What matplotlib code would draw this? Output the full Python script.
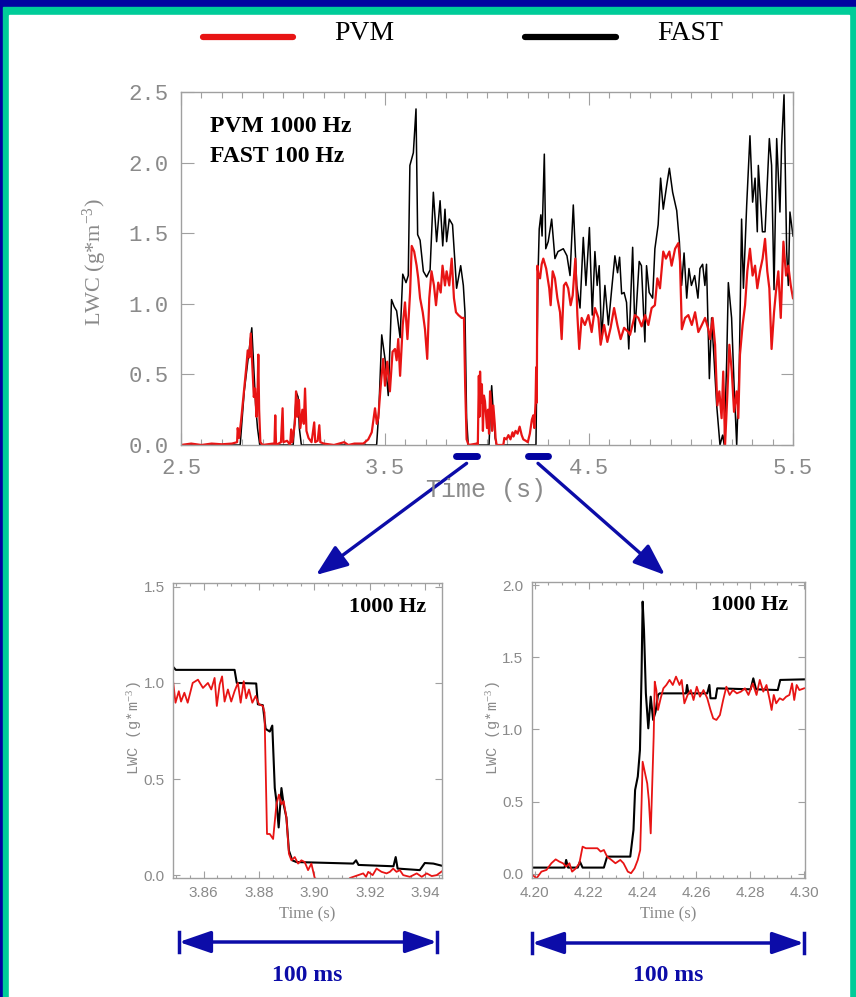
import matplotlib.pyplot as plt
from matplotlib.ticker import MultipleLocator, FixedLocator, FormatStrFormatter
from matplotlib.patches import Rectangle, FancyArrowPatch
from matplotlib.lines import Line2D
from matplotlib.transforms import blended_transform_factory

plt.rcParams['mathtext.fontset'] = 'custom'
plt.rcParams['mathtext.rm'] = 'Liberation Serif'
plt.rcParams['mathtext.it'] = 'Liberation Serif:italic'

W, H = 856, 997

# --- main panel: FAST (100 Hz) and PVM (1000 Hz), LWC in g/m^3 ---
fast_t = [2.50, 2.79, 2.81, 2.83, 2.847, 2.855, 2.866, 2.875, 2.886, 3.05, 3.058, 3.066, 3.074,
          3.08, 3.09, 3.459, 3.470, 3.484, 3.500, 3.510, 3.516, 3.532, 3.545, 3.557, 3.574, 3.587,
          3.603, 3.614, 3.622, 3.639, 3.652, 3.660, 3.672, 3.688, 3.704, 3.721, 3.737, 3.753, 3.770,
          3.783, 3.794, 3.802, 3.815, 3.831, 3.851, 3.871, 3.884, 3.892, 3.900, 3.908, 4.010, 4.018,
          4.023, 4.030, 4.040, 4.047, 4.240, 4.250, 4.256, 4.264, 4.270, 4.281, 4.288, 4.300, 4.317,
          4.333, 4.348, 4.374, 4.392, 4.407, 4.423, 4.440, 4.456, 4.472, 4.485, 4.502, 4.516, 4.529,
          4.540, 4.550, 4.562, 4.578, 4.595, 4.611, 4.627, 4.640, 4.650, 4.660, 4.672, 4.684, 4.695,
          4.714, 4.725, 4.746, 4.757, 4.774, 4.782, 4.795, 4.812, 4.823, 4.839, 4.851, 4.864, 4.881,
          4.894, 4.910, 4.930, 4.943, 4.954, 4.966, 4.979, 4.990, 5.002, 5.018, 5.034, 5.044, 5.057,
          5.068, 5.076, 5.090, 5.101, 5.113, 5.126, 5.142, 5.155, 5.163, 5.175, 5.183, 5.199, 5.211,
          5.224, 5.237, 5.248, 5.257, 5.273, 5.289, 5.302, 5.314, 5.325, 5.330, 5.350, 5.363, 5.384,
          5.395, 5.407, 5.420, 5.436, 5.444, 5.456, 5.469, 5.477, 5.485, 5.500]
fast_v = [0.0, 0.0, 0.38, 0.62, 0.83, 0.60, 0.28, 0.12, 0.0, 0.0, 0.20, 0.37, 0.34,
          0.12, 0.0, 0.0, 0.25, 0.78, 0.61, 0.45, 0.35, 1.03, 0.98, 0.95, 0.76, 1.21,
          1.15, 1.20, 1.98, 2.07, 2.38, 1.49, 1.45, 1.23, 1.19, 1.24, 1.79, 1.44, 1.73,
          1.41, 1.67, 1.44, 1.60, 1.56, 1.11, 1.27, 1.13, 0.94, 0.19, 0.0, 0.0, 0.30,
          0.42, 0.25, 0.05, 0.0, 0.0, 1.20, 1.53, 1.63, 1.48, 2.06, 1.39, 1.44, 1.60,
          1.32, 1.37, 1.39, 1.34, 1.20, 1.70, 1.13, 0.97, 1.47, 1.13, 1.54, 0.92, 1.37,
          1.13, 1.27, 0.75, 1.13, 0.85, 1.10, 1.34, 1.22, 1.33, 1.07, 1.08, 1.01, 0.68,
          1.40, 0.80, 1.30, 1.27, 0.73, 1.27, 1.08, 1.04, 1.39, 1.56, 1.89, 1.67, 1.84,
          1.96, 1.79, 1.66, 1.44, 1.13, 1.36, 1.04, 1.25, 1.13, 1.20, 1.04, 1.25, 1.28,
          1.13, 1.28, 0.47, 0.90, 0.61, 0.28, 0.0, 0.07, 0.0, 0.60, 1.15, 0.90, 0.43,
          0.0, 0.59, 1.60, 1.11, 1.70, 2.19, 1.72, 1.89, 1.51, 1.98, 1.51, 1.51, 2.17,
          1.98, 1.10, 2.17, 1.65, 2.12, 2.48, 1.37, 1.13, 1.65, 1.48]

pvm_t = [2.50, 2.55, 2.60, 2.65, 2.70, 2.75, 2.775, 2.778, 2.785, 2.795, 2.81, 2.82, 2.827,
         2.835, 2.842, 2.85, 2.857, 2.863, 2.870, 2.875, 2.879, 2.883, 2.889, 2.90, 2.95, 2.958,
         2.962, 2.966, 2.99, 2.998, 3.002, 3.02, 3.035, 3.04, 3.046, 3.058, 3.064, 3.07, 3.078,
         3.085, 3.095, 3.102, 3.108, 3.115, 3.125, 3.14, 3.153, 3.158, 3.170, 3.178, 3.183, 3.20,
         3.25, 3.30, 3.32, 3.35, 3.394, 3.418, 3.435, 3.451, 3.460, 3.467, 3.479, 3.491, 3.500,
         3.511, 3.524, 3.537, 3.549, 3.557, 3.565, 3.574, 3.587, 3.598, 3.610, 3.623, 3.631, 3.643,
         3.655, 3.663, 3.672, 3.685, 3.696, 3.707, 3.717, 3.728, 3.740, 3.750, 3.761, 3.773, 3.782,
         3.794, 3.802, 3.815, 3.827, 3.838, 3.848, 3.860, 3.876, 3.887, 3.893, 3.900, 3.910, 3.950,
         3.955, 3.960, 3.963, 3.966, 3.970, 3.975, 3.980, 3.985, 3.990, 4.000, 4.005, 4.010, 4.015,
         4.020, 4.025, 4.031, 4.038, 4.042, 4.047, 4.080, 4.085, 4.095, 4.105, 4.115, 4.125, 4.130,
         4.140, 4.150, 4.160, 4.170, 4.178, 4.190, 4.200, 4.210, 4.220, 4.227, 4.232, 4.238, 4.241,
         4.244, 4.247, 4.253, 4.260, 4.268, 4.276, 4.290, 4.305, 4.312, 4.322, 4.333, 4.345, 4.358,
         4.366, 4.377, 4.387, 4.398, 4.410, 4.420, 4.433, 4.443, 4.452, 4.464, 4.480, 4.497, 4.513,
         4.529, 4.546, 4.557, 4.574, 4.590, 4.606, 4.623, 4.639, 4.655, 4.672, 4.693, 4.701, 4.725,
         4.742, 4.758, 4.775, 4.791, 4.807, 4.823, 4.835, 4.848, 4.864, 4.877, 4.894, 4.905, 4.922,
         4.938, 4.946, 4.955, 4.971, 4.987, 5.004, 5.020, 5.036, 5.053, 5.069, 5.085, 5.093, 5.106,
         5.118, 5.129, 5.139, 5.150, 5.158, 5.167, 5.178, 5.188, 5.200, 5.211, 5.224, 5.232, 5.240,
         5.253, 5.265, 5.276, 5.289, 5.302, 5.314, 5.325, 5.338, 5.351, 5.363, 5.374, 5.384, 5.395,
         5.407, 5.416, 5.428, 5.440, 5.453, 5.466, 5.477, 5.489, 5.500]
pvm_v = [0.0, 0.01, 0.0, 0.01, 0.005, 0.01, 0.02, 0.12, 0.05, 0.18, 0.40, 0.55, 0.67,
         0.62, 0.79, 0.55, 0.34, 0.40, 0.20, 0.35, 0.64, 0.25, 0.02, 0.0, 0.01, 0.0,
         0.21, 0.0, 0.02, 0.26, 0.02, 0.03, 0.0, 0.11, 0.02, 0.15, 0.38, 0.20, 0.32,
         0.12, 0.25, 0.15, 0.40, 0.10, 0.05, 0.02, 0.16, 0.02, 0.03, 0.14, 0.02, 0.01,
         0.0, 0.02, 0.0, 0.01, 0.01, 0.04, 0.09, 0.26, 0.15, 0.19, 0.42, 0.61, 0.42,
         0.59, 0.38, 0.66, 0.68, 0.60, 0.75, 0.49, 0.85, 1.01, 0.75, 1.08, 1.41, 1.37,
         1.27, 1.18, 1.04, 0.94, 0.82, 0.61, 1.04, 1.23, 1.13, 0.99, 1.15, 1.08, 1.27,
         1.13, 1.23, 1.13, 1.32, 1.04, 0.94, 0.92, 0.90, 0.90, 0.42, 0.04, 0.0, 0.01,
         0.0, 0.49, 0.20, 0.52, 0.30, 0.43, 0.10, 0.35, 0.31, 0.12, 0.25, 0.08, 0.38,
         0.30, 0.10, 0.28, 0.15, 0.05, 0.0, 0.0, 0.05, 0.04, 0.07, 0.04, 0.09, 0.06,
         0.10, 0.08, 0.13, 0.07, 0.04, 0.03, 0.02, 0.08, 0.18, 0.21, 0.12, 0.30, 0.55,
         0.30, 1.27, 1.20, 1.18, 1.28, 1.32, 1.25, 1.11, 0.99, 1.23, 1.18, 1.04, 0.94,
         0.75, 1.13, 1.15, 1.11, 0.99, 1.06, 1.32, 0.92, 0.68, 0.90, 0.85, 0.92, 0.80,
         0.97, 0.90, 0.71, 0.85, 0.73, 0.83, 0.97, 0.85, 0.75, 0.83, 0.80, 0.78, 0.92,
         0.90, 0.84, 0.92, 0.85, 0.97, 0.99, 1.18, 1.11, 1.37, 1.32, 1.37, 1.27, 1.39,
         1.43, 1.30, 0.82, 0.90, 0.92, 0.85, 0.94, 0.80, 0.85, 0.90, 0.82, 0.75, 0.90,
         0.71, 0.28, 0.38, 0.19, 0.52, 0.0, 0.35, 0.71, 0.52, 0.235, 0.38, 0.19, 0.64,
         0.85, 0.99, 1.23, 1.39, 1.20, 1.27, 1.11, 1.23, 1.32, 1.46, 1.23, 1.11, 0.68,
         0.94, 1.08, 1.23, 0.90, 1.44, 1.20, 1.27, 1.13, 1.04]
main_xticks = [2.5, 3.5, 4.5, 5.5]

# --- zoom windows (s) ---
win1 = (3.85, 3.95)
win2 = (4.20, 4.30)

# --- zoom 1: leaving the cloud, both at 1000 Hz ---
fast1_t = [3.8489, 3.8500, 3.8712, 3.8720, 3.8790, 3.8796, 3.8814, 3.8824, 3.8839, 3.8848, 3.8857,
           3.8863, 3.8871, 3.8881, 3.8889, 3.8899, 3.8908, 3.8920, 3.8935, 3.9140, 3.9150, 3.9159,
           3.9285, 3.9293, 3.9300, 3.9380, 3.9398, 3.9429, 3.9459]
fast1_v = [1.086, 1.068, 1.068, 1.000, 0.997, 0.889, 0.884, 0.761, 0.747, 0.778, 0.453,
           0.385, 0.248, 0.453, 0.368, 0.299, 0.128, 0.077, 0.068, 0.060, 0.077, 0.053,
           0.046, 0.094, 0.034, 0.026, 0.063, 0.060, 0.049]
pvm1_t = [3.8489, 3.8499, 3.8511, 3.8519, 3.8531, 3.8543, 3.8561, 3.8580, 3.8598, 3.8616, 3.8628,
          3.8640, 3.8648, 3.8658, 3.8667, 3.8676, 3.8688, 3.8700, 3.8712, 3.8724, 3.8734, 3.8745,
          3.8754, 3.8764, 3.8776, 3.8788, 3.8800, 3.8814, 3.8820, 3.8829, 3.8839, 3.8851, 3.8863,
          3.8872, 3.8881, 3.8889, 3.8899, 3.8908, 3.8917, 3.8929, 3.8941, 3.8953, 3.8965, 3.8977,
          3.8989, 3.9001, 3.9019, 3.9122, 3.9128, 3.9176, 3.9186, 3.9194, 3.9210, 3.9224, 3.9242,
          3.9260, 3.9272, 3.9284, 3.9296, 3.9308, 3.9320, 3.9344, 3.9369, 3.9387, 3.9405, 3.9423,
          3.9441, 3.9459]
pvm1_v = [1.026, 0.897, 0.957, 0.903, 0.949, 0.897, 1.000, 1.017, 0.974, 1.000, 0.966,
          1.026, 0.880, 0.991, 1.034, 0.903, 0.966, 0.903, 0.957, 1.000, 0.897, 1.009,
          0.920, 0.966, 0.897, 0.932, 0.889, 0.880, 0.846, 0.214, 0.214, 0.188, 0.368,
          0.419, 0.368, 0.385, 0.299, 0.111, 0.077, 0.094, 0.060, 0.077, 0.068, 0.026,
          0.060, -0.015, -0.030, -0.030, -0.015, 0.009, -0.009, 0.017, 0.000, 0.034, 0.017,
          0.009, 0.017, 0.034, 0.017, 0.026, 0.000, -0.009, 0.009, -0.009, 0.009, -0.005,
          0.000, 0.019]

# --- zoom 2: entering the cloud ---
fast2_t = [4.1991, 4.2110, 4.2116, 4.2123, 4.2159, 4.2167, 4.2177, 4.2256, 4.2268, 4.2354, 4.2366,
           4.2372, 4.2382, 4.2390, 4.2396, 4.2400, 4.2405, 4.2412, 4.2421, 4.2430, 4.2439, 4.2448,
           4.2457, 4.2463, 4.2561, 4.2565, 4.2570, 4.2640, 4.2648, 4.2652, 4.2671, 4.2677, 4.2801,
           4.2811, 4.2821, 4.2902, 4.2911, 4.3000]
fast2_v = [0.044, 0.044, 0.097, 0.044, 0.044, 0.085, 0.044, 0.044, 0.120, 0.120, 0.305,
           0.581, 0.674, 0.858, 1.389, 1.885, 1.689, 1.250, 1.008, 1.227, 1.066, 1.123,
           1.239, 1.250, 1.250, 1.308, 1.250, 1.250, 1.308, 1.216, 1.216, 1.285, 1.278,
           1.354, 1.278, 1.273, 1.343, 1.347]
pvm2_t = [4.1991, 4.2006, 4.2024, 4.2043, 4.2061, 4.2077, 4.2091, 4.2104, 4.2116, 4.2128, 4.2138,
          4.2152, 4.2165, 4.2177, 4.2189, 4.2213, 4.2232, 4.2244, 4.2256, 4.2268, 4.2284, 4.2299,
          4.2317, 4.2329, 4.2345, 4.2357, 4.2370, 4.2382, 4.2391, 4.2396, 4.2400, 4.2409, 4.2417,
          4.2423, 4.2430, 4.2435, 4.2441, 4.2445, 4.2451, 4.2457, 4.2467, 4.2477, 4.2488, 4.2500,
          4.2512, 4.2524, 4.2537, 4.2545, 4.2555, 4.2567, 4.2579, 4.2589, 4.2601, 4.2613, 4.2626,
          4.2640, 4.2652, 4.2662, 4.2674, 4.2687, 4.2699, 4.2711, 4.2723, 4.2735, 4.2750, 4.2765,
          4.2780, 4.2793, 4.2809, 4.2823, 4.2835, 4.2848, 4.2860, 4.2872, 4.2879, 4.2887, 4.2896,
          4.2909, 4.2921, 4.2933, 4.2945, 4.2955, 4.2963, 4.2972, 4.2982, 4.3000]
pvm2_v = [-0.007, -0.030, 0.016, 0.028, 0.074, 0.101, 0.085, 0.074, 0.051, 0.074, 0.016,
          0.039, 0.074, 0.189, 0.178, 0.178, 0.178, 0.155, 0.166, 0.120, 0.097, 0.074,
          0.097, 0.074, 0.016, 0.005, 0.039, 0.097, 0.166, 0.489, 0.777, 0.697, 0.627,
          0.512, 0.281, 0.581, 0.950, 1.331, 1.273, 1.135, 1.216, 1.285, 1.308, 1.343,
          1.308, 1.366, 1.308, 1.343, 1.181, 1.239, 1.273, 1.204, 1.296, 1.227, 1.273,
          1.216, 1.135, 1.077, 1.066, 1.100, 1.204, 1.296, 1.239, 1.273, 1.250, 1.262,
          1.285, 1.239, 1.319, 1.239, 1.343, 1.262, 1.308, 1.204, 1.135, 1.239, 1.181,
          1.216, 1.204, 1.227, 1.239, 1.319, 1.204, 1.308, 1.273, 1.285]

RED = '#e81414'
DARK_BLUE = '#0202a0'
TEAL = '#00cc99'
ARROW = '#0c0ca8'
GREY = '#8a8a8a'
SPINE = '#a0a0a0'


def fx(x):
    return x / W


def fy(y):
    return 1 - y / H


def style_axes(ax, font, size, maj_len, min_len, pad):
    for s in ax.spines.values():
        s.set_color(SPINE)
        s.set_linewidth(1.0)
    ax.tick_params(which='both', direction='in', top=True, right=True,
                   color=SPINE, labelcolor=GREY, pad=pad)
    ax.tick_params(which='major', length=maj_len, width=0.8)
    ax.tick_params(which='minor', length=min_len, width=0.8)
    for lab in ax.get_xticklabels() + ax.get_yticklabels():
        lab.set_fontfamily(font)
        lab.set_fontsize(size)


fig = plt.figure(figsize=(W / 100, H / 100), dpi=100)
fig.patch.set_facecolor(DARK_BLUE)
fig.add_artist(Rectangle((fx(3), 0), 1 - fx(3), fy(7), transform=fig.transFigure,
                         color=TEAL, zorder=-20))
fig.add_artist(Rectangle((fx(9), 0), fx(840), fy(15), transform=fig.transFigure,
                         color='white', zorder=-10))

# legend at the top
fig.add_artist(Line2D([fx(203), fx(293)], [fy(37), fy(37)], transform=fig.transFigure,
                      color=RED, lw=4.5, solid_capstyle='round'))
fig.add_artist(Line2D([fx(525), fx(616)], [fy(37), fy(37)], transform=fig.transFigure,
                      color='black', lw=4.5, solid_capstyle='round'))
fig.text(fx(334), fy(33), 'PVM', family='Liberation Serif', fontsize=20, va='center')
fig.text(fx(657), fy(33), 'FAST', family='Liberation Serif', fontsize=20, va='center')

# main panel
ax = fig.add_axes([fx(181), fy(445), fx(793 - 181), (445 - 92) / H])
ax.plot(fast_t, fast_v, color='black', lw=1.1)
ax.plot(pvm_t, pvm_v, color=RED, lw=1.6)
ax.set_xlim(2.5, 5.5)
ax.set_ylim(0, 2.5)
ax.xaxis.set_major_locator(FixedLocator(main_xticks))
ax.xaxis.set_minor_locator(MultipleLocator(0.1))
ax.yaxis.set_major_locator(MultipleLocator(0.5))
ax.xaxis.set_major_formatter(FormatStrFormatter('%.1f'))
ax.yaxis.set_major_formatter(FormatStrFormatter('%.1f'))
style_axes(ax, 'Liberation Mono', 16, 9, 4.5, 9)
fig.text(fx(486), fy(490), 'Time (s)', family='Liberation Mono', fontsize=18,
         color=GREY, ha='center', va='center')
fig.text(fx(95), fy(262), 'LWC (g*m$^{-3}$)', family='Liberation Serif', fontsize=16,
         color=GREY, ha='center', va='center', rotation=90)
fig.text(fx(210), fy(127), 'PVM 1000 Hz', family='Liberation Serif', fontsize=17,
         weight='bold', va='center')
fig.text(fx(210), fy(156), 'FAST 100 Hz', family='Liberation Serif', fontsize=17,
         weight='bold', va='center')

# zoom-window markers and arrows
btr = blended_transform_factory(ax.transData, ax.transAxes)
for win, tip in ((win1, (316, 575)), (win2, (665, 575))):
    ax.plot(win, [-0.031, -0.031], transform=btr, color=DARK_BLUE, lw=5,
            solid_capstyle='round', clip_on=False)
    ax.annotate('', xy=(fx(tip[0]), fy(tip[1])), xycoords='figure fraction',
                xytext=(sum(win) / 2, -0.052), textcoords=('data', 'axes fraction'),
                arrowprops=dict(arrowstyle='-|>,head_length=1.3,head_width=0.5',
                                mutation_scale=15, lw=2.4, color=ARROW,
                                shrinkA=0, shrinkB=0),
                annotation_clip=False)

# zoom panels
panels = [
    ([fx(173), fy(878), fx(442 - 173), (878 - 583) / H], (3.849, 3.946), (-0.015, 1.52),
     fast1_t, fast1_v, pvm1_t, pvm1_v, (179, 437, 942), 307),
    ([fx(531.7), fy(878), fx(805 - 531.7), (878 - 581.7) / H], (4.1988, 4.3003), (-0.028, 2.023),
     fast2_t, fast2_v, pvm2_t, pvm2_v, (532, 804, 943), 668),
]
for rect, xl, yl, ft, fv, pt, pv, arr, cx in panels:
    a = fig.add_axes(rect)
    a.plot(ft, fv, color='black', lw=1.5)
    a.plot(pt, pv, color=RED, lw=1.3)
    a.set_xlim(*xl)
    a.set_ylim(*yl)
    a.xaxis.set_major_locator(MultipleLocator(0.02))
    a.xaxis.set_minor_locator(MultipleLocator(0.005))
    a.yaxis.set_major_locator(MultipleLocator(0.5))
    a.xaxis.set_major_formatter(FormatStrFormatter('%.2f'))
    a.yaxis.set_major_formatter(FormatStrFormatter('%.1f'))
    style_axes(a, 'Liberation Sans', 11, 5, 2.5, 6)
    a.text(0.94, 0.92, '1000 Hz', transform=a.transAxes, family='Liberation Serif',
           fontsize=16, weight='bold', ha='right', va='center')
    fig.text(fx(cx), fy(914), 'Time (s)', family='Liberation Serif', fontsize=12,
             color=GREY, ha='center', va='center')
    fig.text(fx(rect[0] * W - 38), fy(728), 'LWC (g*m$^{-3}$)', family='Liberation Mono',
             fontsize=11, color=GREY, ha='center', va='center', rotation=90)
    x0, x1, yy = arr
    fig.add_artist(Line2D([fx(x0), fx(x0)], [fy(yy - 10), fy(yy + 10)], transform=fig.transFigure,
                          color=ARROW, lw=2.5))
    fig.add_artist(Line2D([fx(x1), fx(x1)], [fy(yy - 10), fy(yy + 10)], transform=fig.transFigure,
                          color=ARROW, lw=2.5))
    fig.add_artist(FancyArrowPatch(
        (fx(x0), fy(yy)), (fx(x1), fy(yy)), transform=fig.transFigure,
        arrowstyle='<|-|>,head_length=1.3,head_width=0.45', mutation_scale=15,
        lw=2.5, color=ARROW, shrinkA=0, shrinkB=0))
    fig.text(fx(cx), fy(975), '100 ms', family='Liberation Serif', fontsize=17,
             weight='bold', color=ARROW, ha='center', va='center')

fig.savefig('out.png', dpi=100, facecolor=fig.get_facecolor())
